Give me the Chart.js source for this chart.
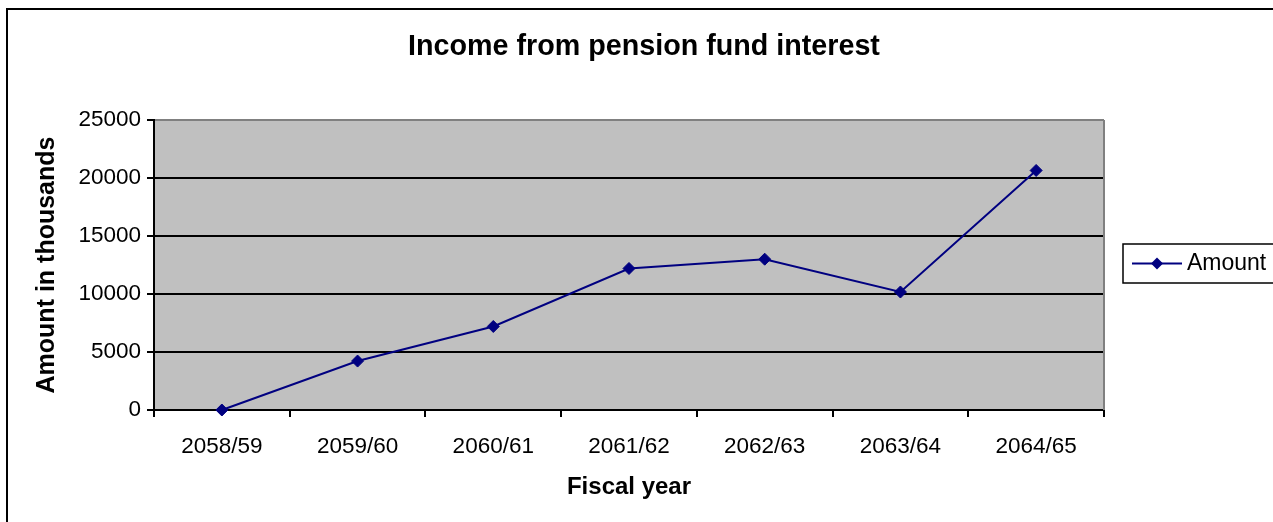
<!DOCTYPE html>
<html>
<head>
<meta charset="utf-8">
<title>Income from pension fund interest</title>
<script src="https://cdn.jsdelivr.net/npm/chart.js@4/dist/chart.umd.min.js"></script>
<style>
  html, body { margin: 0; padding: 0; background: #fff; }
  #wrap { width: 1273px; height: 522px; }
</style>
</head>
<body>
<div id="wrap"><canvas id="pensionChart" width="1273" height="522"></canvas></div>
<script>
// fiscal years and interest income (thousands)
var fiscalYears = ['2058/59', '2059/60', '2060/61', '2061/62', '2062/63', '2063/64', '2064/65'];
var amounts = [0, 4220, 7200, 12200, 13000, 10170, 20650];
var seriesName = 'Amount';
var chartTitle = 'Income from pension fund interest';

var navy = '#000080';
var FONT = "'Liberation Sans', Arial, sans-serif";

Chart.defaults.font.family = FONT;
Chart.defaults.color = '#000';

// grey plot background, outer frame, title and boxed legend
var frame = {
    id: 'frame',
    beforeDraw: function (chart) {
        var ctx = chart.ctx, a = chart.chartArea;
        ctx.save();
        ctx.fillStyle = '#fff';
        ctx.fillRect(0, 0, chart.width, chart.height);
        ctx.fillStyle = '#c0c0c0';
        ctx.fillRect(a.left, a.top, a.right - a.left, a.bottom - a.top);
        ctx.restore();
    },
    beforeDatasetsDraw: function (chart) {
        var ctx = chart.ctx, a = chart.chartArea;
        ctx.save();
        ctx.strokeStyle = '#808080';
        ctx.lineWidth = 2;
        ctx.beginPath();
        ctx.moveTo(a.right, a.top);
        ctx.lineTo(a.right, a.bottom);
        ctx.stroke();
        ctx.restore();
    },
    afterDraw: function (chart) {
        var ctx = chart.ctx;
        ctx.save();
        // outer border
        ctx.strokeStyle = '#000';
        ctx.lineWidth = 2;
        ctx.strokeRect(7, 9, chart.width + 20, chart.height + 20);

        // title
        ctx.fillStyle = '#000';
        ctx.font = 'bold 28.7px ' + FONT;
        ctx.textAlign = 'center';
        ctx.textBaseline = 'middle';
        ctx.fillText(chartTitle, 644, 47);

        // legend
        var ds = chart.data.datasets[0];
        ctx.lineWidth = 1.5;
        ctx.strokeRect(1123, 244, 200, 39);
        ctx.strokeStyle = ds.borderColor;
        ctx.lineWidth = 2;
        ctx.beginPath();
        ctx.moveTo(1132, 263.5);
        ctx.lineTo(1182, 263.5);
        ctx.stroke();
        ctx.fillStyle = ds.pointBackgroundColor;
        ctx.beginPath();
        ctx.moveTo(1157, 257.5);
        ctx.lineTo(1163, 263.5);
        ctx.lineTo(1157, 269.5);
        ctx.lineTo(1151, 263.5);
        ctx.closePath();
        ctx.fill();
        ctx.fillStyle = '#000';
        ctx.font = '23px ' + FONT;
        ctx.textAlign = 'left';
        ctx.fillText(ds.label, 1187, 264);
        ctx.restore();
    }
};

var ctx = document.getElementById('pensionChart').getContext('2d');
var pensionChart = new Chart(ctx, {
    type: 'line',
    data: {
        labels: fiscalYears,
        datasets: [{
            label: seriesName,
            data: amounts,
            borderColor: navy,
            backgroundColor: navy,
            pointBackgroundColor: navy,
            pointBorderColor: navy,
            borderWidth: 2,
            pointStyle: 'rectRot',
            pointRadius: 6,
            pointBorderWidth: 1,
            tension: 0,
            clip: false
        }]
    },
    options: {
        responsive: false,
        animation: false,
        events: [],
        layout: {
            padding: { left: 22, top: 120, right: 169, bottom: 20 }
        },
        plugins: {
            legend: { display: false },
            title: { display: false },
            tooltip: { enabled: false }
        },
        scales: {
            x: {
                type: 'category',
                offset: true,
                afterFit: function (scale) { scale.height = 92; },
                grid: {
                    offset: true,
                    drawOnChartArea: false,
                    drawTicks: true,
                    tickLength: 7,
                    color: '#000',
                    lineWidth: 2
                },
                border: { color: '#000', width: 2 },
                ticks: {
                    color: '#000',
                    font: { size: 22.5 },
                    padding: 16,
                    maxRotation: 0,
                    autoSkip: false
                },
                title: {
                    display: true,
                    text: 'Fiscal year',
                    color: '#000',
                    font: { size: 24, weight: 'bold' },
                    padding: { top: 0, bottom: 0 }
                }
            },
            y: {
                min: 0,
                max: 25000,
                afterFit: function (scale) { scale.width = 132; },
                grid: {
                    color: function (c) { return c.tick && c.tick.value === 25000 ? '#808080' : '#000'; },
                    tickColor: '#000',
                    lineWidth: 2,
                    tickLength: 7
                },
                border: { color: '#000', width: 2 },
                ticks: {
                    stepSize: 5000,
                    color: '#000',
                    font: { size: 22.5 },
                    padding: 6,
                    callback: function (v) { return String(v); }
                },
                title: {
                    display: true,
                    text: 'Amount in thousands',
                    color: '#000',
                    font: { size: 25, weight: 'bold' },
                    padding: { top: 10, bottom: 0 }
                }
            }
        }
    },
    plugins: [frame]
});
</script>
</body>
</html>
